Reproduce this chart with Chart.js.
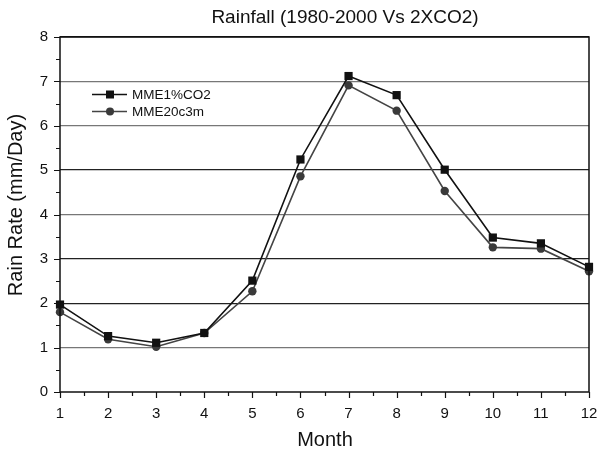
<!DOCTYPE html>
<html>
<head>
<meta charset="utf-8">
<script src="https://cdn.jsdelivr.net/npm/chart.js@4"></script>
<style>
  html, body { margin: 0; padding: 0; background: #fff; }
  #wrap { width: 598px; height: 452px; position: relative; }
</style>
</head>
<body>
<div id="wrap"><canvas id="rainChart"></canvas></div>
<script>
'use strict';

/* ── Data ────────────────────────────────────────────── */

var months      = [1, 2, 3, 4, 5, 6, 7, 8, 9, 10, 11, 12];
var co2Values   = [1.97, 1.26, 1.11, 1.33, 2.51, 5.24, 7.12, 6.69, 5.01, 3.48, 3.35, 2.82];
var c20Values   = [1.80, 1.19, 1.02, 1.33, 2.27, 4.86, 6.91, 6.34, 4.53, 3.26, 3.23, 2.72];
var seriesNames = ['MME1%CO2', 'MME20c3m'];
var titleText   = 'Rainfall (1980-2000 Vs 2XCO2)';
var yTitle      = 'Rain Rate (mm/Day)';
var xTitle      = 'Month';

var FONT = 'Liberation Sans, Arial, sans-serif';

function toPoints(vals) {
  return months.map(function (m, i) { return { x: m, y: vals[i] }; });
}

/* gridline shades vary a little in the original */
var gridShade = { 1: '#777', 2: '#222', 3: '#222', 4: '#777', 5: '#222', 6: '#777', 7: '#777', 8: '#111' };

/* ── Frame, minor ticks, titles and inset legend ─────── */

var framePlugin = {
  id: 'frame',
  afterDraw: function (chart) {
    var ctx = chart.ctx;
    var a = chart.chartArea;
    var xs = chart.scales.x, ys = chart.scales.y;
    ctx.save();
    ctx.strokeStyle = '#111';
    ctx.lineWidth = 1.5;
    ctx.beginPath();
    ctx.moveTo(a.left, a.bottom);
    ctx.lineTo(a.right, a.bottom);
    ctx.lineTo(a.right, a.top);
    ctx.lineTo(a.left, a.top);
    ctx.lineTo(a.left, a.bottom);
    ctx.stroke();

    ctx.lineWidth = 1.2;
    ctx.beginPath();
    for (var v = 0; v <= 8; v += 0.5) {
      var py = Math.round(ys.getPixelForValue(v)) + 0.5;
      var len = (v % 1 === 0) ? 6 : 4;
      ctx.moveTo(a.left - len, py);
      ctx.lineTo(a.left, py);
    }
    for (var m = 1; m <= 12; m += 0.5) {
      var px = Math.round(xs.getPixelForValue(m)) + 0.5;
      var l2 = (m % 1 === 0) ? 6 : 4;
      ctx.moveTo(px, a.bottom);
      ctx.lineTo(px, a.bottom + l2);
    }
    ctx.stroke();

    ctx.fillStyle = '#111';
    ctx.font = '19px ' + FONT;
    ctx.textAlign = 'center';
    ctx.textBaseline = 'middle';
    ctx.fillText(titleText, 345, 18);

    ctx.font = '20px ' + FONT;
    ctx.fillText(xTitle, 325, 440);
    ctx.save();
    ctx.translate(16, 205);
    ctx.rotate(-Math.PI / 2);
    ctx.fillText(yTitle, 0, 0);
    ctx.restore();

    /* legend inside the plot */
    var ds = chart.data.datasets;
    var rows = [94.5, 111.5];
    ds.forEach(function (d, i) {
      var y = rows[i];
      ctx.strokeStyle = d.borderColor;
      ctx.lineWidth = d.borderWidth;
      ctx.beginPath();
      ctx.moveTo(92, y);
      ctx.lineTo(127, y);
      ctx.stroke();
      ctx.fillStyle = d.pointBackgroundColor;
      if (d.pointStyle === 'rect') {
        ctx.fillRect(106, y - 4, 8, 8);
      } else {
        ctx.beginPath();
        ctx.arc(110, y, 4, 0, Math.PI * 2);
        ctx.fill();
      }
      ctx.fillStyle = '#111';
      ctx.font = '13.5px ' + FONT;
      ctx.textAlign = 'left';
      ctx.fillText(d.label, 132, y + 0.5);
    });
    ctx.restore();
  }
};

/* ── Chart ───────────────────────────────────────────── */

new Chart(document.getElementById('rainChart'), {
  type: 'line',
  data: {
    datasets: [
      {
        label: seriesNames[0],
        data: toPoints(co2Values),
        borderColor: '#111',
        borderWidth: 1.6,
        pointStyle: 'rect',
        pointRadius: 5.8,
        pointBackgroundColor: '#111',
        pointBorderWidth: 0,
        tension: 0,
        clip: false
      },
      {
        label: seriesNames[1],
        data: toPoints(c20Values),
        borderColor: '#444',
        borderWidth: 1.6,
        pointStyle: 'circle',
        pointRadius: 4.2,
        pointBackgroundColor: '#3a3a3a',
        pointBorderWidth: 0,
        tension: 0,
        clip: false
      }
    ]
  },
  options: {
    responsive: true,
    maintainAspectRatio: false,
    animation: false,
    layout: { padding: { top: 37, right: 0, left: 0, bottom: 0 } },
    plugins: {
      legend: { display: false },
      title: { display: false },
      tooltip: { enabled: false }
    },
    scales: {
      x: {
        type: 'linear',
        min: 1,
        max: 12,
        afterFit: function (s) { s.height = 60; s.paddingRight = 9; },
        grid: { display: false, drawTicks: false },
        border: { display: false },
        ticks: {
          stepSize: 1,
          padding: 13,
          color: '#111',
          font: { family: FONT, size: 15 }
        }
      },
      y: {
        min: 0,
        max: 8,
        afterFit: function (s) { s.width = 60; },
        grid: {
          drawTicks: false,
          lineWidth: 1.3,
          color: function (c) {
            var v = c.tick && c.tick.value;
            return gridShade[v] || 'rgba(0,0,0,0)';
          }
        },
        border: { display: false },
        ticks: {
          stepSize: 1,
          padding: 12,
          color: '#111',
          font: { family: FONT, size: 15 }
        }
      }
    }
  },
  plugins: [framePlugin]
});
</script>
</body>
</html>
